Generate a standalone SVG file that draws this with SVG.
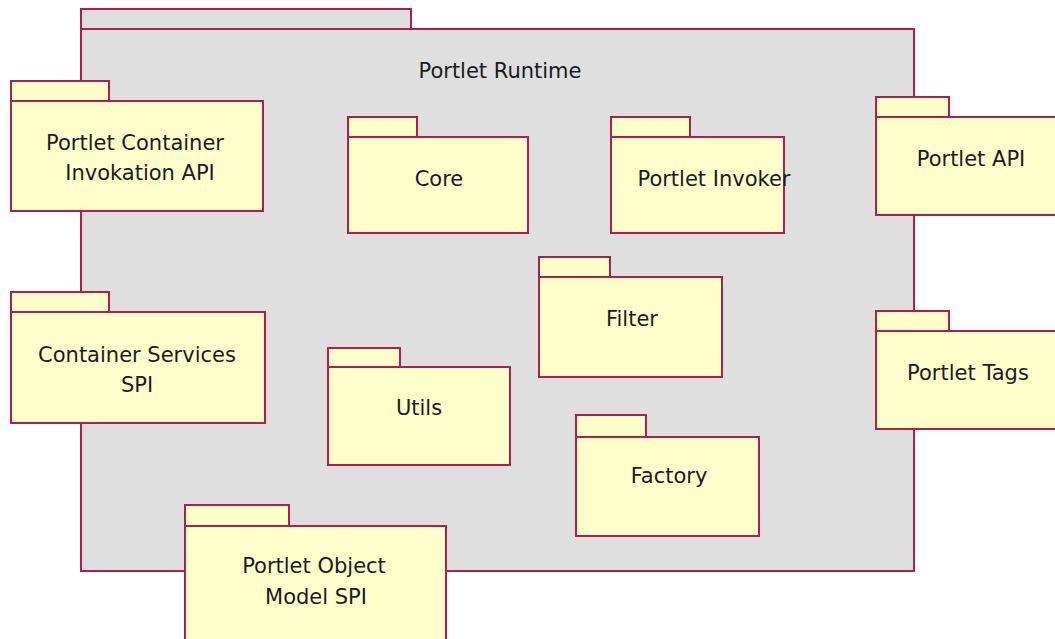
<svg xmlns="http://www.w3.org/2000/svg" width="1055" height="639" viewBox="0 0 1055 639">
<style>
.pkg{fill:#ffffcc;stroke:#b01e4c;stroke-width:2}
.outer{fill:#dfdfdf;stroke:#b01e4c;stroke-width:2}
text{font-family:"DejaVu Sans",Verdana,sans-serif;font-size:21px;fill:#1a1a1a;text-anchor:middle}
</style>
<rect width="1055" height="639" fill="#ffffff"/>
<g id="portlet-runtime">
<rect class="outer" x="81" y="9" width="330" height="20"/>
<rect class="outer" x="81" y="29" width="833" height="542"/>
<text x="500" y="78">Portlet Runtime</text>
</g>
<g id="invokation-api">
<rect class="pkg" x="11" y="81" width="98" height="20"/>
<rect class="pkg" x="11" y="101" width="252" height="110"/>
<text x="135" y="150">Portlet Container</text>
<text x="140" y="180">Invokation API</text>
</g>
<g id="core">
<rect class="pkg" x="348" y="117" width="69" height="20"/>
<rect class="pkg" x="348" y="137" width="180" height="96"/>
<text x="439" y="186">Core</text>
</g>
<g id="portlet-invoker">
<rect class="pkg" x="611" y="117" width="79" height="20"/>
<rect class="pkg" x="611" y="137" width="173" height="96"/>
<text x="714" y="186">Portlet Invoker</text>
</g>
<g id="portlet-api">
<rect class="pkg" x="876" y="97" width="73" height="20"/>
<rect class="pkg" x="876" y="117" width="190" height="98"/>
<text x="971" y="166">Portlet API</text>
</g>
<g id="filter">
<rect class="pkg" x="539" y="257" width="71" height="20"/>
<rect class="pkg" x="539" y="277" width="183" height="100"/>
<text x="632" y="326">Filter</text>
</g>
<g id="container-services-spi">
<rect class="pkg" x="11" y="292" width="98" height="20"/>
<rect class="pkg" x="11" y="312" width="254" height="111"/>
<text x="137" y="362">Container Services</text>
<text x="137" y="392">SPI</text>
</g>
<g id="utils">
<rect class="pkg" x="328" y="348" width="72" height="19"/>
<rect class="pkg" x="328" y="367" width="182" height="98"/>
<text x="419" y="415">Utils</text>
</g>
<g id="portlet-tags">
<rect class="pkg" x="876" y="311" width="73" height="20"/>
<rect class="pkg" x="876" y="331" width="190" height="98"/>
<text x="968" y="380">Portlet Tags</text>
</g>
<g id="factory">
<rect class="pkg" x="576" y="415" width="70" height="22"/>
<rect class="pkg" x="576" y="437" width="183" height="99"/>
<text x="669" y="483">Factory</text>
</g>
<g id="portlet-object-model-spi">
<rect class="pkg" x="185" y="505" width="104" height="21"/>
<rect class="pkg" x="185" y="526" width="261" height="125"/>
<text x="314" y="573">Portlet Object</text>
<text x="316" y="604">Model SPI</text>
</g>
<g id="connectors"></g>
</svg>
